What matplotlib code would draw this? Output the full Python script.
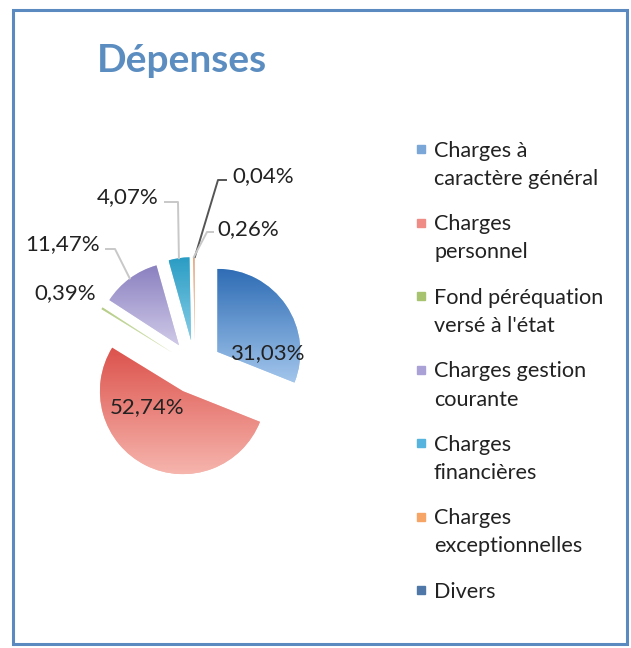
import numpy as np
import matplotlib.pyplot as plt
from matplotlib.colors import LinearSegmentedColormap

# Données du graphique
categories = ["Charges à\ncaractère général", "Charges\npersonnel", "Fond péréquation\nversé à l'état",
              "Charges gestion\ncourante", "Charges\nfinancières", "Charges\nexceptionnelles", "Divers"]
shares = [31.03, 52.74, 0.39, 11.47, 4.07, 0.26, 0.04]
dark_colors = ["#2f6db5", "#dc524c", "#b5cc85", "#8a80c0", "#2a9cc4", "#e8a070", "#3a6598"]
light_colors = ["#a3c6ec", "#f6b5ad", "#dbe8c0", "#d0cae8", "#86cde6", "#f0c8a8", "#7f9fc8"]
legend_colors = ["#7aa6d8", "#f08c86", "#a7c36f", "#aaa2d6", "#56b4de", "#f7a566", "#4f78a8"]

W, H = 631, 648
plt.rcParams['font.family'] = ['Lato', 'DejaVu Sans']

fig = plt.figure(figsize=(W / 100, H / 100), dpi=100)
ax = fig.add_axes([0, 0, 1, 1])

# camembert éclaté, coordonnées en pixels (y vers le haut)
cx, cy, r, expl = 195, H - 367, 83, 27
wedges, _ = ax.pie(shares, center=(cx, cy), radius=r, startangle=90, counterclock=False,
                   explode=[expl] * len(shares), colors=light_colors,
                   wedgeprops=dict(linewidth=0))

# dégradé vertical dans chaque part
for w, c0, c1 in zip(wedges, dark_colors, light_colors):
    ext = w.get_path().get_extents()
    cmap = LinearSegmentedColormap.from_list("g", [c1, c0])
    grad = np.linspace(0, 1, 256).reshape(-1, 1)
    im = ax.imshow(grad, cmap=cmap, extent=(ext.x0, ext.x1, ext.y0, ext.y1),
                   origin="lower", aspect="auto", zorder=2)
    im.set_clip_path(w)


def fmt(v):
    return f"{v:.2f}%".replace(".", ",")


def outer_point(i):
    w = wedges[i]
    th = np.deg2rad((w.theta1 + w.theta2) / 2)
    return w.center[0] + r * np.cos(th), w.center[1] + r * np.sin(th)


txt_col = "#222222"
# étiquettes à l'intérieur
ax.text(267, H - 353, fmt(shares[0]), ha="center", va="center", fontsize=16, color=txt_col, zorder=5)
ax.text(147, H - 407, fmt(shares[1]), ha="center", va="center", fontsize=16, color=txt_col, zorder=5)

# étiquettes extérieures avec lignes de rappel
leaders = {
    6: ([(218, 180), (226, 180)], "#555555", (232, 176), "left"),
    5: ([(207, 232), (213, 232)], "#c8c8c8", (217, 229), "left"),
    4: ([(178, 202), (165, 202)], "#c8c8c8", (159, 197), "right"),
    3: ([(115, 249), (106, 249)], "#c8c8c8", (100, 244), "right"),
    2: ([], None, (96, 293), "right"),
}
for i, (pts, col, (tx, ty), ha) in leaders.items():
    if pts:
        x0, y0 = outer_point(i)
        xs = [x0] + [p[0] for p in pts]
        ys = [y0] + [H - p[1] for p in pts]
        ax.plot(xs, ys, color=col, lw=1.4, zorder=3)
    ax.text(tx, H - ty, fmt(shares[i]), ha=ha, va="center", fontsize=16, color=txt_col, zorder=5)

# légende
for k, (lab, col) in enumerate(zip(categories, legend_colors)):
    yb = 157 + k * 73.5
    nl = lab.count("\n")
    ax.plot([421], [H - yb + 8], marker="s", ms=5.2, color=col, ls="", zorder=5)
    ax.text(434, H - yb - nl * 28, lab, ha="left", va="baseline", fontsize=15.6, color=txt_col,
            linespacing=1.52, zorder=5)

# titre
ax.text(97, H - 72, "Dépenses", fontsize=28, fontweight="bold", color="#5b8dc1",
        ha="left", va="baseline")

# cadre
ax.add_patch(plt.Rectangle((13, H - 644), 614, 634, fill=False, edgecolor="#5b8ac0",
                           linewidth=2.2, zorder=6))

ax.set_xlim(0, W)
ax.set_ylim(0, H)
ax.set_aspect("auto")
ax.axis("off")

fig.savefig("out.png", dpi=100)
